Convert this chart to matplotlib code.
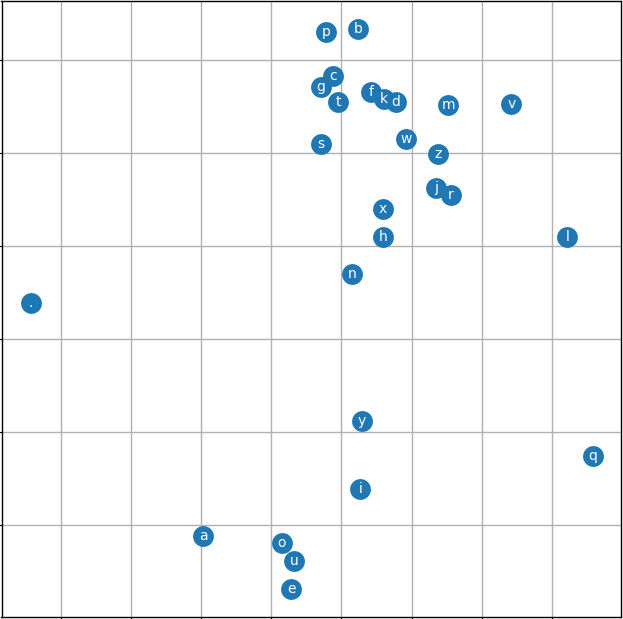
import matplotlib
matplotlib.use("Agg")
import matplotlib.pyplot as plt

labels = ["p", "b", "g", "c", "t", "f", "k", "d", "m", "v", "s", "w", "z", "j", "r",
          "x", "h", "l", "n", ".", "y", "q", "i", "a", "o", "u", "e"]
xs = [4.783, 5.240, 4.707, 4.883, 4.954, 5.425, 5.607, 5.774, 6.525, 7.424, 4.707, 5.921,
      6.382, 6.349, 6.559, 5.592, 5.597, 8.223, 5.154, 0.563, 5.288, 8.590, 5.268, 3.027,
      4.146, 4.326, 4.283]
ys = [6.304, 6.333, 5.716, 5.831, 5.548, 5.662, 5.584, 5.548, 5.516, 5.527, 5.100, 5.154,
      4.992, 4.624, 4.548, 4.401, 4.097, 4.100, 3.699, 3.387, 2.125, 1.745, 1.387, 0.885,
      0.813, 0.619, 0.312]
xticks = [1, 2, 3, 4, 5, 6, 7, 8]
yticks = [1, 2, 3, 4, 5, 6]

fig = plt.figure(figsize=(6.23, 6.19), dpi=100)
ax = fig.add_axes([1.5 / 623, 2.3 / 619, 619.2 / 623, 615.7 / 619])
ax.scatter(xs, ys, s=225, color="#1f77b4", linewidths=0, zorder=2)
for lab, x, y in zip(labels, xs, ys):
    ax.text(x, y, lab, color="white", fontsize=10, ha="center", va="center", zorder=3)

ax.set_xlim(0.146, 8.986)
ax.set_ylim(0.017, 6.638)
ax.set_xticks(xticks)
ax.set_yticks(yticks)
ax.set_xticklabels([])
ax.set_yticklabels([])
ax.grid(True, color="#b0b0b0", linewidth=1.0, zorder=0)
ax.set_axisbelow(True)
for sp in ax.spines.values():
    sp.set_color("black")
    sp.set_linewidth(1.0)

fig.savefig("out.png", dpi=100)
